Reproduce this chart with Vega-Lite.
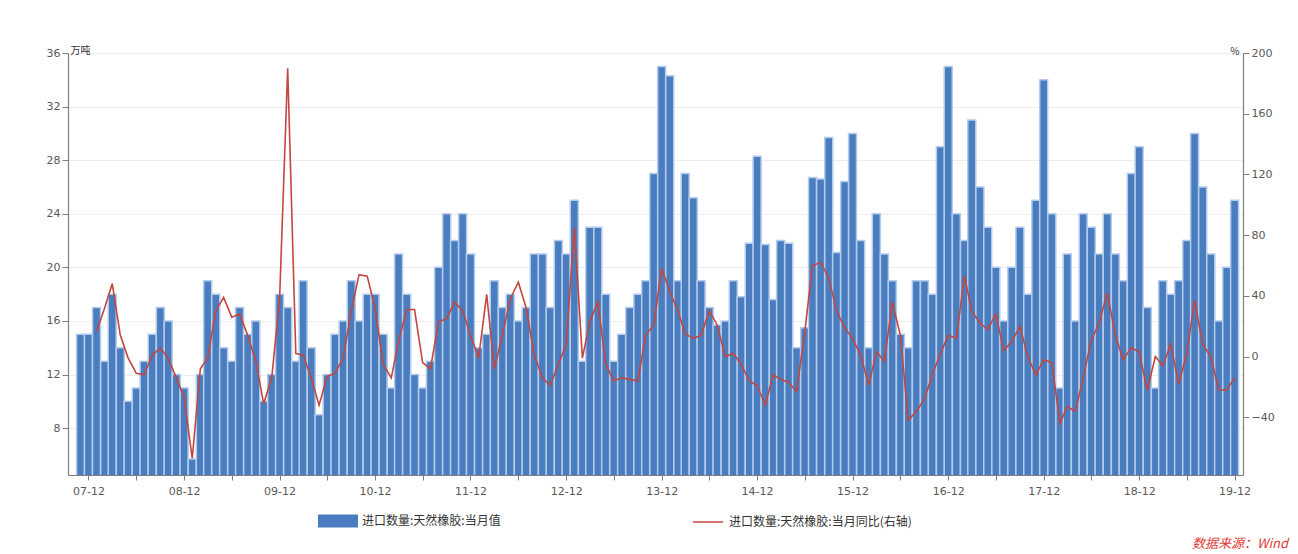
{
  "$schema": "https://vega.github.io/schema/vega-lite/v6.json",
  "autosize": {"type": "none"},
  "width": 1175,
  "height": 422,
  "padding": {"left": 68, "top": 53, "right": 55, "bottom": 79},
  "background": "white",
  "config": {
    "view": {"stroke": null},
    "font": "DejaVu Sans",
    "axis": {"labelFont": "DejaVu Sans", "labelFontSize": 11, "labelColor": "#595959", "domainColor": "#7F7F7F", "tickColor": "#7F7F7F", "domainWidth": 1.2}
  },
  "title": {
    "text": "数据来源：Wind",
    "orient": "bottom",
    "anchor": "end",
    "frame": "group",
    "dx": 45,
    "offset": 10,
    "color": "#E03A3A",
    "font": "Noto Sans CJK SC",
    "fontStyle": "italic",
    "fontWeight": "normal",
    "fontSize": 13
  },
  "data": {
    "values": [
      {"d": "2007-11-01", "v": 15, "y": null},
      {"d": "2007-12-01", "v": 15, "y": null},
      {"d": "2008-01-01", "v": 17, "y": 16.5},
      {"d": "2008-02-01", "v": 13, "y": 32},
      {"d": "2008-03-01", "v": 18, "y": 48},
      {"d": "2008-04-01", "v": 14, "y": 14},
      {"d": "2008-05-01", "v": 10, "y": -1},
      {"d": "2008-06-01", "v": 11, "y": -11},
      {"d": "2008-07-01", "v": 13, "y": -12},
      {"d": "2008-08-01", "v": 15, "y": 1},
      {"d": "2008-09-01", "v": 17, "y": 5.5},
      {"d": "2008-10-01", "v": 16, "y": -1},
      {"d": "2008-11-01", "v": 12, "y": -14},
      {"d": "2008-12-01", "v": 11, "y": -27},
      {"d": "2009-01-01", "v": 5.7, "y": -67},
      {"d": "2009-02-01", "v": 12, "y": -8},
      {"d": "2009-03-01", "v": 19, "y": -1},
      {"d": "2009-04-01", "v": 18, "y": 30},
      {"d": "2009-05-01", "v": 14, "y": 39},
      {"d": "2009-06-01", "v": 13, "y": 26},
      {"d": "2009-07-01", "v": 17, "y": 28},
      {"d": "2009-08-01", "v": 15, "y": 14},
      {"d": "2009-09-01", "v": 16, "y": -3},
      {"d": "2009-10-01", "v": 10, "y": -31},
      {"d": "2009-11-01", "v": 12, "y": -14},
      {"d": "2009-12-01", "v": 18, "y": 38},
      {"d": "2010-01-01", "v": 17, "y": 190},
      {"d": "2010-02-01", "v": 13, "y": 2},
      {"d": "2010-03-01", "v": 19, "y": 1},
      {"d": "2010-04-01", "v": 14, "y": -14},
      {"d": "2010-05-01", "v": 9, "y": -32},
      {"d": "2010-06-01", "v": 12, "y": -13},
      {"d": "2010-07-01", "v": 15, "y": -11},
      {"d": "2010-08-01", "v": 16, "y": -1},
      {"d": "2010-09-01", "v": 19, "y": 30},
      {"d": "2010-10-01", "v": 16, "y": 54},
      {"d": "2010-11-01", "v": 18, "y": 53},
      {"d": "2010-12-01", "v": 18, "y": 32},
      {"d": "2011-01-01", "v": 15, "y": -5},
      {"d": "2011-02-01", "v": 11, "y": -14},
      {"d": "2011-03-01", "v": 21, "y": 10},
      {"d": "2011-04-01", "v": 18, "y": 31},
      {"d": "2011-05-01", "v": 12, "y": 31},
      {"d": "2011-06-01", "v": 11, "y": -4},
      {"d": "2011-07-01", "v": 13, "y": -8},
      {"d": "2011-08-01", "v": 20, "y": 23},
      {"d": "2011-09-01", "v": 24, "y": 25},
      {"d": "2011-10-01", "v": 22, "y": 36},
      {"d": "2011-11-01", "v": 24, "y": 30},
      {"d": "2011-12-01", "v": 21, "y": 14},
      {"d": "2012-01-01", "v": 14, "y": -1},
      {"d": "2012-02-01", "v": 15, "y": 41},
      {"d": "2012-03-01", "v": 19, "y": -8},
      {"d": "2012-04-01", "v": 17, "y": 14},
      {"d": "2012-05-01", "v": 18, "y": 38},
      {"d": "2012-06-01", "v": 16, "y": 49},
      {"d": "2012-07-01", "v": 17, "y": 32},
      {"d": "2012-08-01", "v": 21, "y": 1},
      {"d": "2012-09-01", "v": 21, "y": -14},
      {"d": "2012-10-01", "v": 17, "y": -19},
      {"d": "2012-11-01", "v": 22, "y": -5},
      {"d": "2012-12-01", "v": 21, "y": 8},
      {"d": "2013-01-01", "v": 25, "y": 85},
      {"d": "2013-02-01", "v": 13, "y": -1},
      {"d": "2013-03-01", "v": 23, "y": 23},
      {"d": "2013-04-01", "v": 23, "y": 36},
      {"d": "2013-05-01", "v": 18, "y": -5},
      {"d": "2013-06-01", "v": 13, "y": -16},
      {"d": "2013-07-01", "v": 15, "y": -14},
      {"d": "2013-08-01", "v": 17, "y": -15},
      {"d": "2013-09-01", "v": 18, "y": -16},
      {"d": "2013-10-01", "v": 19, "y": 14},
      {"d": "2013-11-01", "v": 27, "y": 21},
      {"d": "2013-12-01", "v": 35, "y": 58},
      {"d": "2014-01-01", "v": 34.3, "y": 43},
      {"d": "2014-02-01", "v": 19, "y": 30},
      {"d": "2014-03-01", "v": 27, "y": 15},
      {"d": "2014-04-01", "v": 25.2, "y": 12},
      {"d": "2014-05-01", "v": 19, "y": 14},
      {"d": "2014-06-01", "v": 17, "y": 30},
      {"d": "2014-07-01", "v": 15.7, "y": 21},
      {"d": "2014-08-01", "v": 16, "y": 0},
      {"d": "2014-09-01", "v": 19, "y": 2},
      {"d": "2014-10-01", "v": 17.8, "y": -5},
      {"d": "2014-11-01", "v": 21.8, "y": -16},
      {"d": "2014-12-01", "v": 28.3, "y": -19},
      {"d": "2015-01-01", "v": 21.7, "y": -32},
      {"d": "2015-02-01", "v": 17.6, "y": -12},
      {"d": "2015-03-01", "v": 22, "y": -15},
      {"d": "2015-04-01", "v": 21.8, "y": -17},
      {"d": "2015-05-01", "v": 14, "y": -23},
      {"d": "2015-06-01", "v": 15.5, "y": 16},
      {"d": "2015-07-01", "v": 26.7, "y": 60},
      {"d": "2015-08-01", "v": 26.6, "y": 62},
      {"d": "2015-09-01", "v": 29.7, "y": 52},
      {"d": "2015-10-01", "v": 21.1, "y": 30},
      {"d": "2015-11-01", "v": 26.4, "y": 19},
      {"d": "2015-12-01", "v": 30, "y": 12},
      {"d": "2016-01-01", "v": 22, "y": 1},
      {"d": "2016-02-01", "v": 14, "y": -19},
      {"d": "2016-03-01", "v": 24, "y": 3},
      {"d": "2016-04-01", "v": 21, "y": -3},
      {"d": "2016-05-01", "v": 19, "y": 36},
      {"d": "2016-06-01", "v": 15, "y": 14},
      {"d": "2016-07-01", "v": 14, "y": -42},
      {"d": "2016-08-01", "v": 19, "y": -36},
      {"d": "2016-09-01", "v": 19, "y": -28},
      {"d": "2016-10-01", "v": 18, "y": -12},
      {"d": "2016-11-01", "v": 29, "y": 2},
      {"d": "2016-12-01", "v": 35, "y": 14},
      {"d": "2017-01-01", "v": 24, "y": 12},
      {"d": "2017-02-01", "v": 22, "y": 53},
      {"d": "2017-03-01", "v": 31, "y": 30},
      {"d": "2017-04-01", "v": 26, "y": 22},
      {"d": "2017-05-01", "v": 23, "y": 18},
      {"d": "2017-06-01", "v": 20, "y": 28},
      {"d": "2017-07-01", "v": 16, "y": 4},
      {"d": "2017-08-01", "v": 20, "y": 10},
      {"d": "2017-09-01", "v": 23, "y": 20},
      {"d": "2017-10-01", "v": 18, "y": 0},
      {"d": "2017-11-01", "v": 25, "y": -12},
      {"d": "2017-12-01", "v": 34, "y": -2},
      {"d": "2018-01-01", "v": 24, "y": -4},
      {"d": "2018-02-01", "v": 11, "y": -44},
      {"d": "2018-03-01", "v": 21, "y": -33},
      {"d": "2018-04-01", "v": 16, "y": -36},
      {"d": "2018-05-01", "v": 24, "y": -14},
      {"d": "2018-06-01", "v": 23, "y": 11},
      {"d": "2018-07-01", "v": 21, "y": 22},
      {"d": "2018-08-01", "v": 24, "y": 42},
      {"d": "2018-09-01", "v": 21, "y": 14},
      {"d": "2018-10-01", "v": 19, "y": -2},
      {"d": "2018-11-01", "v": 27, "y": 6},
      {"d": "2018-12-01", "v": 29, "y": 3},
      {"d": "2019-01-01", "v": 17, "y": -22},
      {"d": "2019-02-01", "v": 11, "y": 0},
      {"d": "2019-03-01", "v": 19, "y": -6},
      {"d": "2019-04-01", "v": 18, "y": 8},
      {"d": "2019-05-01", "v": 19, "y": -18},
      {"d": "2019-06-01", "v": 22, "y": 2},
      {"d": "2019-07-01", "v": 30, "y": 37},
      {"d": "2019-08-01", "v": 26, "y": 8},
      {"d": "2019-09-01", "v": 21, "y": 0},
      {"d": "2019-10-01", "v": 16, "y": -22},
      {"d": "2019-11-01", "v": 20, "y": -22},
      {"d": "2019-12-01", "v": 25, "y": -14}
    ]
  },
  "layer": [
    {
      "mark": {"type": "bar", "size": 8, "stroke": "#B4CCEB", "strokeWidth": 1.5, "clip": true},
      "encoding": {
        "x": {
          "field": "d",
          "type": "temporal",
          "scale": {"type": "utc", "domain": [{"year": 2007, "month": 10, "date": 3, "utc": true}, {"year": 2019, "month": 12, "date": 14, "utc": true}]},
          "axis": {
            "title": null,
            "grid": false,
            "tickSize": 5,
            "labelPadding": 5,
            "labelOverlap": false,
            "labelFlush": false,
            "values": [
              {"year": 2007, "month": 12, "date": 1, "utc": true},
              {"year": 2008, "month": 6, "date": 1, "utc": true},
              {"year": 2008, "month": 12, "date": 1, "utc": true},
              {"year": 2009, "month": 6, "date": 1, "utc": true},
              {"year": 2009, "month": 12, "date": 1, "utc": true},
              {"year": 2010, "month": 6, "date": 1, "utc": true},
              {"year": 2010, "month": 12, "date": 1, "utc": true},
              {"year": 2011, "month": 6, "date": 1, "utc": true},
              {"year": 2011, "month": 12, "date": 1, "utc": true},
              {"year": 2012, "month": 6, "date": 1, "utc": true},
              {"year": 2012, "month": 12, "date": 1, "utc": true},
              {"year": 2013, "month": 6, "date": 1, "utc": true},
              {"year": 2013, "month": 12, "date": 1, "utc": true},
              {"year": 2014, "month": 6, "date": 1, "utc": true},
              {"year": 2014, "month": 12, "date": 1, "utc": true},
              {"year": 2015, "month": 6, "date": 1, "utc": true},
              {"year": 2015, "month": 12, "date": 1, "utc": true},
              {"year": 2016, "month": 6, "date": 1, "utc": true},
              {"year": 2016, "month": 12, "date": 1, "utc": true},
              {"year": 2017, "month": 6, "date": 1, "utc": true},
              {"year": 2017, "month": 12, "date": 1, "utc": true},
              {"year": 2018, "month": 6, "date": 1, "utc": true},
              {"year": 2018, "month": 12, "date": 1, "utc": true},
              {"year": 2019, "month": 6, "date": 1, "utc": true},
              {"year": 2019, "month": 12, "date": 1, "utc": true}
            ],
            "labelExpr": "utcmonth(datum.value) == 11 ? utcFormat(datum.value, '%y-%m') : ''"
          }
        },
        "y": {
          "field": "v",
          "type": "quantitative",
          "scale": {"domain": [4.5, 36], "nice": false, "zero": false},
          "axis": {
            "values": [8, 12, 16, 20, 24, 28, 32, 36],
            "grid": true,
            "gridColor": "#EDEDED",
            "tickSize": 6,
            "labelPadding": 2,
            "title": "万吨",
            "titleAngle": 0,
            "titleX": 2,
            "titleY": -3,
            "titleAlign": "left",
            "titleBaseline": "middle",
            "titleFont": "Noto Sans CJK SC",
            "titleFontSize": 10,
            "titleFontWeight": "normal",
            "titleColor": "#333333"
          }
        },
        "fill": {
          "datum": "进口数量:天然橡胶:当月值",
          "scale": {"range": ["#4A7DBF"]},
          "legend": {
            "orient": "none",
            "legendX": 260,
            "legendY": 458,
            "title": null,
            "padding": 0,
            "symbolType": "M-2,-0.65H2V0.65H-2Z",
            "symbolSize": 400,
            "symbolStrokeWidth": 0,
            "labelFont": "Noto Sans CJK SC",
            "labelFontSize": 12,
            "labelColor": "#333333",
            "labelOffset": 14,
            "labelLimit": 400
          }
        }
      }
    },
    {
      "mark": {"type": "line", "strokeWidth": 1.6, "clip": true},
      "encoding": {
        "x": {"field": "d", "type": "temporal"},
        "y": {
          "field": "y",
          "type": "quantitative",
          "scale": {"domain": [-78, 200], "nice": false, "zero": false},
          "axis": {
            "orient": "right",
            "values": [-40, 0, 40, 80, 120, 160, 200],
            "grid": false,
            "tickSize": 6,
            "labelPadding": 2,
            "title": "%",
            "titleAngle": 0,
            "titleX": -4,
            "titleY": -2,
            "titleAlign": "right",
            "titleBaseline": "middle",
            "titleFont": "Noto Sans CJK SC",
            "titleFontSize": 10,
            "titleFontWeight": "normal",
            "titleColor": "#333333"
          }
        },
        "stroke": {
          "datum": "进口数量:天然橡胶:当月同比(右轴)",
          "scale": {"range": ["#C4463F"]},
          "legend": {
            "orient": "none",
            "legendX": 624,
            "legendY": 453,
            "title": null,
            "padding": 0,
            "symbolType": "stroke",
            "symbolSize": 900,
            "symbolStrokeWidth": 1.5,
            "labelFont": "Noto Sans CJK SC",
            "labelFontSize": 12,
            "labelColor": "#333333",
            "labelOffset": 5,
            "labelLimit": 400
          }
        }
      }
    }
  ],
  "resolve": {"scale": {"y": "independent"}}
}
